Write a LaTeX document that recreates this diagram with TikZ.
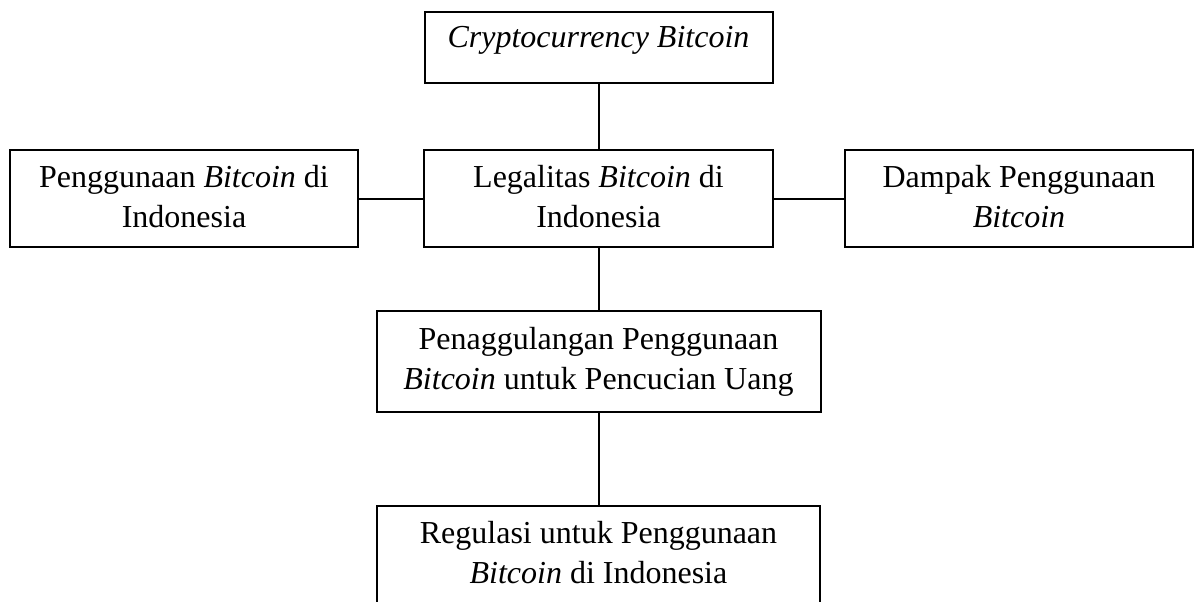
\documentclass[tikz,border=0pt]{standalone}
\usepackage{fontspec}
\setmainfont{Liberation Serif}
\begin{document}
\begin{tikzpicture}[x=1pt,y=1pt,
  box/.style={draw=black, line width=2pt, rectangle, inner sep=0pt},
  txt/.style={inner sep=0pt, align=center, anchor=base, font=\fontsize{32}{40}\selectfont},
  conn/.style={draw=black, line width=2pt}]
\useasboundingbox (0,0) rectangle (1197,-602);
\clip (0,0) rectangle (1197,-602);
\node[box, minimum width=348pt, minimum height=71pt] (crypto) at (598.5,-47.5) {};
\node[box, minimum width=349pt, minimum height=97pt] (legal) at (598.5,-198.5) {};
\node[box, minimum width=348pt, minimum height=97pt] (guna) at (184,-198.5) {};
\node[box, minimum width=348pt, minimum height=97pt] (dampak) at (1019,-198.5) {};
\node[box, minimum width=444pt, minimum height=101pt] (tanggul) at (598.5,-361.5) {};
\node[box, minimum width=443pt, minimum height=101pt] (regulasi) at (598.5,-556) {};
\node[txt] (tcrypto) at ([yshift=-37pt]crypto.north) {\textit{Cryptocurrency Bitcoin}};
\node[txt] (tlegal) at ([yshift=-78pt]legal.north) {Legalitas \textit{Bitcoin} di\\Indonesia};
\node[txt] (tguna) at ([yshift=-78pt]guna.north) {Penggunaan \textit{Bitcoin} di\\Indonesia};
\node[txt] (tdampak) at ([yshift=-78pt]dampak.north) {Dampak Penggunaan\\\textit{Bitcoin}};
\node[txt] (ttanggul) at ([yshift=-79pt]tanggul.north) {Penaggulangan Penggunaan\\\textit{Bitcoin} untuk Pencucian Uang};
\node[txt] (tregulasi) at ([yshift=-79pt]regulasi.north) {Regulasi untuk Penggunaan\\\textit{Bitcoin} di Indonesia};
\draw[conn] (crypto.south) -- (legal.north);
\draw[conn] (guna.east) -- (legal.west);
\draw[conn] (legal.east) -- (dampak.west);
\draw[conn] (legal.south) -- (tanggul.north);
\draw[conn] (tanggul.south) -- (regulasi.north);
\end{tikzpicture}
\end{document}
